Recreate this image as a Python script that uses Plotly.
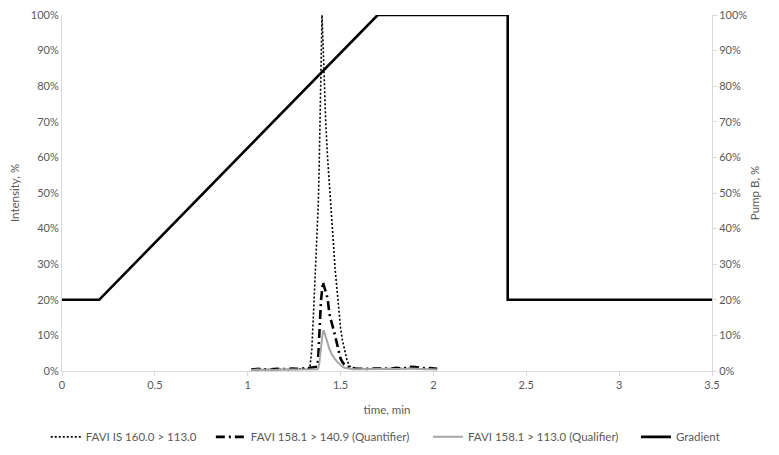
import plotly.graph_objects as go

# ---- data ----
time_ms = [1.02, 1.04, 1.06, 1.08, 1.10, 1.12, 1.14, 1.16, 1.18, 1.20,
           1.22, 1.24, 1.26, 1.28, 1.30, 1.32, 1.335, 1.345, 1.355, 1.365,
           1.375, 1.38, 1.385, 1.39, 1.395, 1.40, 1.405, 1.41, 1.415, 1.42,
           1.43, 1.44, 1.45, 1.46, 1.47, 1.48, 1.49, 1.50, 1.51, 1.52,
           1.535, 1.55, 1.565, 1.58, 1.60, 1.62, 1.64, 1.66, 1.68, 1.70,
           1.72, 1.74, 1.76, 1.78, 1.80, 1.82, 1.84, 1.86, 1.88, 1.90,
           1.92, 1.94, 1.96, 1.98, 2.00, 2.02]

is_160 = [0.004, 0.005, 0.004, 0.005, 0.004, 0.005, 0.005, 0.004, 0.005, 0.005,
          0.004, 0.005, 0.005, 0.006, 0.005, 0.006, 0.010, 0.060, 0.170, 0.290,
          0.410, 0.470, 0.580, 0.700, 0.850, 1.000, 0.930, 0.850, 0.770, 0.700,
          0.600, 0.530, 0.450, 0.370, 0.290, 0.226, 0.170, 0.120, 0.086, 0.060,
          0.030, 0.013, 0.009, 0.007, 0.006, 0.006, 0.005, 0.006, 0.005, 0.006,
          0.006, 0.005, 0.006, 0.006, 0.007, 0.006, 0.007, 0.008, 0.007, 0.007,
          0.006, 0.006, 0.005, 0.006, 0.005, 0.005]

quant_1409 = [0.004, 0.005, 0.006, 0.004, 0.005, 0.006, 0.005, 0.006, 0.005, 0.006,
              0.005, 0.007, 0.006, 0.006, 0.007, 0.008, 0.009, 0.010, 0.010, 0.010,
              0.012, 0.040, 0.080, 0.150, 0.200, 0.240, 0.250, 0.240, 0.230, 0.220,
              0.205, 0.160, 0.135, 0.120, 0.100, 0.075, 0.050, 0.035, 0.025, 0.018,
              0.012, 0.009, 0.008, 0.007, 0.006, 0.007, 0.006, 0.007, 0.008, 0.007,
              0.007, 0.006, 0.008, 0.007, 0.009, 0.008, 0.007, 0.010, 0.012, 0.011,
              0.009, 0.008, 0.007, 0.008, 0.006, 0.006]

qual_1130 = [0.003, 0.004, 0.004, 0.003, 0.004, 0.004, 0.003, 0.004, 0.004, 0.005,
             0.004, 0.004, 0.005, 0.004, 0.005, 0.005, 0.005, 0.005, 0.005, 0.005,
             0.005, 0.008, 0.020, 0.045, 0.070, 0.095, 0.110, 0.114, 0.105, 0.095,
             0.080, 0.062, 0.050, 0.040, 0.033, 0.027, 0.022, 0.016, 0.012, 0.009,
             0.007, 0.006, 0.005, 0.005, 0.005, 0.004, 0.005, 0.005, 0.004, 0.005,
             0.005, 0.004, 0.005, 0.005, 0.006, 0.005, 0.005, 0.006, 0.007, 0.006,
             0.005, 0.006, 0.005, 0.005, 0.004, 0.004]

grad_time = [0.0, 0.2, 1.7, 2.4, 2.4, 3.5]
grad_pct = [0.20, 0.20, 1.00, 1.00, 0.20, 0.20]

names = ["FAVI IS 160.0 > 113.0",
         "FAVI 158.1 > 140.9 (Quantifier)",
         "FAVI 158.1 > 113.0 (Qualifier)",
         "Gradient"]

FONT = "Lato, 'Open Sans', sans-serif"
GREY_TXT = "#595959"
AXIS_CLR = "#d9d9d9"

fig = go.Figure()
fig.add_trace(go.Scatter(x=time_ms, y=is_160, mode="lines", name=names[0], legend="legend",
                         line=dict(color="#000000", width=1.6, dash="2px,2px")))
fig.add_trace(go.Scatter(x=time_ms, y=quant_1409, mode="lines", name=names[1], legend="legend2",
                         line=dict(color="#000000", width=2.6, dash="9px,4px,2px,4px")))
fig.add_trace(go.Scatter(x=time_ms, y=qual_1130, mode="lines", name=names[2], legend="legend3",
                         line=dict(color="#a6a6a6", width=2)))
fig.add_trace(go.Scatter(x=grad_time, y=grad_pct, mode="lines", name=names[3], legend="legend4",
                         yaxis="y2", line=dict(color="#000000", width=2.6)))

leg_common = dict(orientation="h", xanchor="left", y=-0.185, yanchor="middle",
                  font=dict(size=11.5, color=GREY_TXT), itemwidth=30,
                  bgcolor="rgba(0,0,0,0)")

fig.update_layout(
    width=771, height=447,
    margin=dict(l=54, r=67, t=7, b=84, autoexpand=False),
    paper_bgcolor="white", plot_bgcolor="white",
    font=dict(family=FONT, size=11, color=GREY_TXT),
    showlegend=True,
    legend=dict(x=-0.025, **leg_common),
    legend2=dict(x=0.229, **leg_common),
    legend3=dict(x=0.563, **leg_common),
    legend4=dict(x=0.883, **leg_common),
    xaxis=dict(range=[0, 3.5], dtick=0.5, tick0=0, showgrid=False, zeroline=False,
               showline=True, linecolor=AXIS_CLR, linewidth=1, automargin=False,
               ticks="outside", ticklen=4, tickcolor=AXIS_CLR, ticklabeloverflow="allow",
               tickfont=dict(size=11, color=GREY_TXT),
               title=dict(text="time, min", font=dict(size=11.5, color=GREY_TXT), standoff=15)),
    yaxis=dict(range=[0, 1], dtick=0.1, tickformat=".0%", showgrid=False, zeroline=False,
               showline=True, linecolor=AXIS_CLR, linewidth=1, ticks="", automargin=False,
               ticklabeloverflow="allow",
               tickfont=dict(size=11, color=GREY_TXT),
               title=dict(text="Intensity, %", font=dict(size=11.5, color=GREY_TXT), standoff=8)),
    yaxis2=dict(range=[0, 1], dtick=0.1, tickformat=".0%", overlaying="y", side="right",
                showgrid=False, zeroline=False, showline=True, linecolor=AXIS_CLR, linewidth=1,
                ticks="outside", ticklen=4, tickcolor=AXIS_CLR, automargin=False,
                ticklabeloverflow="allow",
                tickfont=dict(size=11, color=GREY_TXT),
                title=dict(text="Pump B, %", font=dict(size=11.5, color=GREY_TXT), standoff=4)),
)

fig.write_html("out.html")
